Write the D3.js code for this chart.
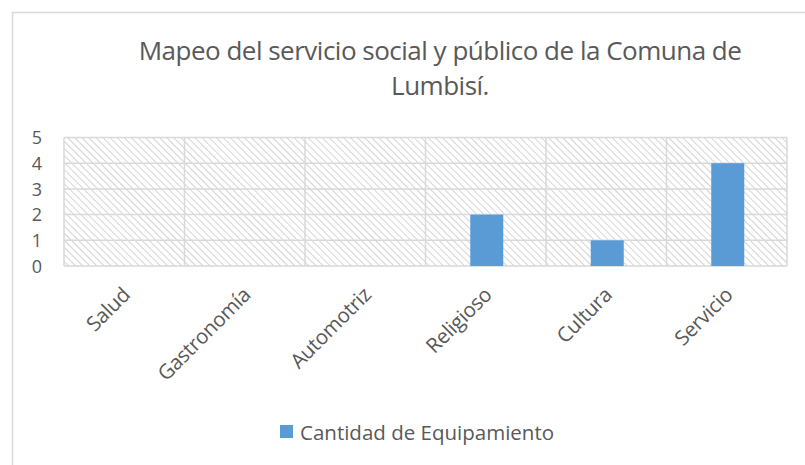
<!DOCTYPE html>
<html><head><meta charset="utf-8">
<script src="https://cdn.jsdelivr.net/npm/d3@7"></script>
<style>body{margin:0;background:#fff}svg{display:block}</style>
</head><body>
<svg id="c" width="805" height="465"></svg>
<script>
const categories = ["Salud","Gastronomía","Automotriz","Religioso","Cultura","Servicio"];
const values = [0,0,0,2,1,4];
const yTicks = [0,1,2,3,4,5];
const seriesName = "Cantidad de Equipamiento";
const titleLines = ["Mapeo del servicio social y público de la Comuna de","Lumbisí."];

const svg = d3.select("#c");
const font = "'Open Sans', sans-serif";
const txt = "#595959";
const grid = "#d9d9d9";
const barColor = "#5b9bd5";

// outer frame
svg.append("rect").attr("x",12.5).attr("y",12.5).attr("width",900).attr("height",600)
  .attr("fill","#fff").attr("stroke","#d9d9d9").attr("stroke-width",1.5);

// hatch pattern
const defs = svg.append("defs");
const pat = defs.append("pattern").attr("id","hatch").attr("patternUnits","userSpaceOnUse")
  .attr("width",5).attr("height",5).attr("patternTransform","rotate(-45)");
pat.append("rect").attr("width",5).attr("height",5).attr("fill","#fff");
pat.append("line").attr("x1",0).attr("y1",0).attr("x2",0).attr("y2",5)
  .attr("stroke","#d4d4d4").attr("stroke-width",2);

const m = {left:64, right:787, top:137.5, bottom:266};
const x = d3.scaleBand().domain(categories).range([m.left,m.right]).paddingInner(0).paddingOuter(0);
const y = d3.scaleLinear().domain([0,5]).range([m.bottom,m.top]);

svg.append("rect").attr("x",m.left).attr("y",m.top).attr("width",m.right-m.left).attr("height",m.bottom-m.top)
  .attr("fill","url(#hatch)");

// horizontal gridlines
svg.append("g").selectAll("line").data(yTicks).join("line")
  .attr("x1",m.left).attr("x2",m.right).attr("y1",d=>y(d)).attr("y2",d=>y(d))
  .attr("stroke",grid).attr("stroke-width",1.5);
// vertical gridlines
const vx = categories.map(c=>x(c)).concat([m.right]);
svg.append("g").selectAll("line").data(vx).join("line")
  .attr("x1",d=>d).attr("x2",d=>d).attr("y1",m.top).attr("y2",m.bottom)
  .attr("stroke",grid).attr("stroke-width",1.5);

// bars
const bw = 33;
svg.append("g").selectAll("rect").data(categories.map((c,i)=>({c,v:values[i]}))).join("rect")
  .attr("x",d=>x(d.c)+x.bandwidth()/2-bw/2+1).attr("width",bw)
  .attr("y",d=>y(d.v)).attr("height",d=>y(0)-y(d.v))
  .attr("fill",barColor);

// y labels
const yAxis = d3.axisLeft(y).tickValues(yTicks).tickSize(0).tickPadding(0).tickFormat(d3.format("d"));
const ya = svg.append("g").attr("transform","translate(42,0)").call(yAxis);
ya.select(".domain").remove();
ya.selectAll("text").attr("font-family",font).attr("font-size",18).attr("fill",txt).attr("dy","0.35em");

// x labels
const xAxis = d3.axisBottom(x).tickSize(0).tickPadding(0);
const xa = svg.append("g").call(xAxis);
xa.select(".domain").remove();
xa.selectAll(".tick").attr("transform",d=>`translate(${x(d)+x.bandwidth()/2-3},286)`);
xa.selectAll("text").attr("font-family",font).attr("font-size",20.5).attr("fill",txt)
  .attr("text-anchor","end").attr("dy","0.7em").attr("y",0).attr("x",0)
  .attr("letter-spacing",-0.3)
  .attr("transform","rotate(-45)");

// title
svg.append("g").selectAll("text").data(titleLines).join("text")
  .attr("x",440).attr("y",(d,i)=>60+i*35).attr("text-anchor","middle")
  .attr("font-family",font).attr("font-size",26).attr("fill",txt)
  .attr("letter-spacing",-0.5).text(d=>d);

// legend
svg.append("rect").attr("x",280).attr("y",425).attr("width",13).attr("height",13).attr("fill",barColor);
svg.append("text").attr("x",300).attr("y",440).attr("font-family",font).attr("font-size",20.5)
  .attr("fill",txt).text(seriesName);
</script>
</body></html>
